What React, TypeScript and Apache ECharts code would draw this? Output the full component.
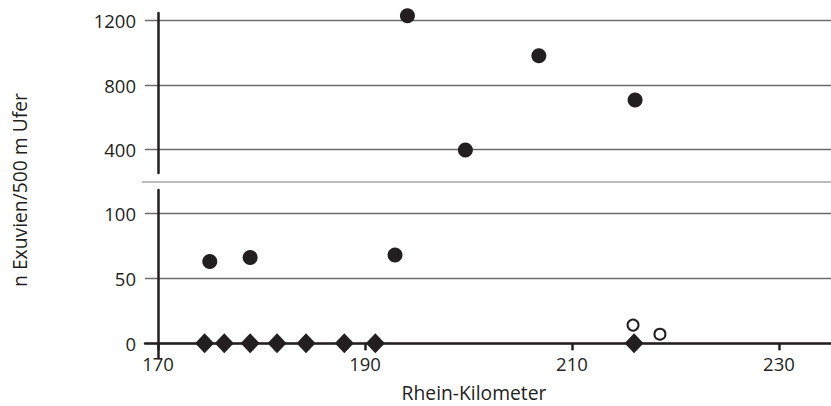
import React, { useEffect, useRef } from "react";
import * as echarts from "echarts";

// Data (Rhein-Kilometer, n Exuvien/500 m Ufer)
const upperCircleKm = [194.1, 199.7, 206.8, 216.1];
const upperCircleN = [1231, 398, 983, 708];
const lowerCircleKm = [175.0, 178.9, 192.9];
const lowerCircleN = [63, 66, 68];
const diamondKm = [174.5, 176.4, 178.9, 181.5, 184.3, 188.0, 191.0, 216.0];
const diamondN = [0, 0, 0, 0, 0, 0, 0, 0];
const openCircleKm = [215.9, 218.5];
const openCircleN = [14, 7];

const xTicks = [170, 190, 210, 230];
const upperTicks = [400, 800, 1200];
const lowerTicks = [0, 50, 100];

const xTitle = "Rhein-Kilometer";
const yTitle = "n Exuvien/500 m Ufer";

const INK = "#231f20";
const FONT = "Open Sans";
const TICK_FS = 18.5;
const TITLE_FS = 19.3;

const zip = (xs: number[], ys: number[]) => xs.map((x, i) => [x, ys[i]]);

export default function App() {
  const ref = useRef<HTMLDivElement>(null);
  useEffect(() => {
    if (!ref.current) return;
    const chart = echarts.init(ref.current, undefined, { renderer: "svg" });
    const xCommon = {
      type: "value" as const,
      min: 168.74,
      max: 235.03,
    };
    const yLabel = {
      color: INK,
      fontFamily: FONT,
      fontSize: TICK_FS,
      margin: 22,
      formatter: (v: number) => String(v),
    };
    const split = { show: true, lineStyle: { color: "#6d6b6b", width: 1.3 } };
    const mark = { color: INK, opacity: 1 };
    chart.setOption({
      animation: false,
      backgroundColor: "#fff",
      textStyle: { fontFamily: FONT },
      grid: [
        { left: 145, right: 0, top: 13, height: 160 },
        { left: 145, right: 0, top: 190, height: 168 },
      ],
      xAxis: [
        {
          ...xCommon,
          gridIndex: 0,
          show: false,
          splitLine: { show: false },
        },
        {
          ...xCommon,
          gridIndex: 1,
          axisLine: { show: true, onZero: true, lineStyle: { color: INK, width: 2.5 } },
          axisTick: { show: true, length: 7, customValues: xTicks, lineStyle: { color: INK, width: 2.5 } },
          axisLabel: {
            customValues: xTicks,
            color: INK,
            fontFamily: FONT,
            fontSize: TICK_FS,
            margin: -4,
            formatter: (v: number) => String(v),
          },
          splitLine: { show: false },
        },
      ],
      yAxis: [
        {
          type: "value",
          gridIndex: 0,
          min: 255.5,
          max: 1247.7,
          offset: -13,
          axisLine: { show: true, onZero: false, lineStyle: { color: INK, width: 2.5 } },
          axisTick: { show: false, customValues: upperTicks },
          axisLabel: { ...yLabel, customValues: upperTicks },
          splitLine: split,
        },
        {
          type: "value",
          gridIndex: 1,
          min: -11.3,
          max: 117.9,
          offset: -13,
          axisLine: { show: true, onZero: false, lineStyle: { color: INK, width: 2.5 } },
          axisTick: { show: false, customValues: lowerTicks },
          axisLabel: { ...yLabel, customValues: lowerTicks },
          splitLine: split,
        },
      ],
      graphic: [
        {
          type: "line",
          shape: { x1: 142, y1: 182, x2: 831, y2: 182 },
          style: { stroke: "#a7a5a5", lineWidth: 1.5 },
          z: 0,
        },
        {
          type: "text",
          x: 19,
          y: 190,
          rotation: Math.PI / 2,
          style: {
            text: yTitle,
            fill: INK,
            font: `${TITLE_FS}px "${FONT}"`,
            align: "center",
            verticalAlign: "middle",
          },
        },
        {
          type: "text",
          x: 474,
          y: 392,
          style: {
            text: xTitle,
            fill: INK,
            font: `${TITLE_FS}px "${FONT}"`,
            align: "center",
            verticalAlign: "middle",
          },
        },
      ],
      series: [
        {
          type: "scatter",
          xAxisIndex: 0,
          yAxisIndex: 0,
          symbol: "circle",
          symbolSize: 15,
          itemStyle: mark,
          data: zip(upperCircleKm, upperCircleN),
          clip: false,
        },
        {
          type: "scatter",
          xAxisIndex: 1,
          yAxisIndex: 1,
          symbol: "circle",
          symbolSize: 15,
          itemStyle: mark,
          data: zip(lowerCircleKm, lowerCircleN),
          clip: false,
        },
        {
          type: "scatter",
          xAxisIndex: 1,
          yAxisIndex: 1,
          symbol: "diamond",
          symbolSize: [19, 20],
          itemStyle: mark,
          data: zip(diamondKm, diamondN),
          clip: false,
          z: 3,
        },
        {
          type: "scatter",
          xAxisIndex: 1,
          yAxisIndex: 1,
          symbol: "circle",
          symbolSize: 11,
          itemStyle: { color: "#fff", borderColor: INK, borderWidth: 2, opacity: 1 },
          data: zip(openCircleKm, openCircleN),
          clip: false,
        },
      ],
    });
    return () => chart.dispose();
  }, []);
  return (
    <div
      ref={ref}
      style={{ position: "fixed", left: 0, top: 0, width: 831, height: 406 }}
    />
  );
}
